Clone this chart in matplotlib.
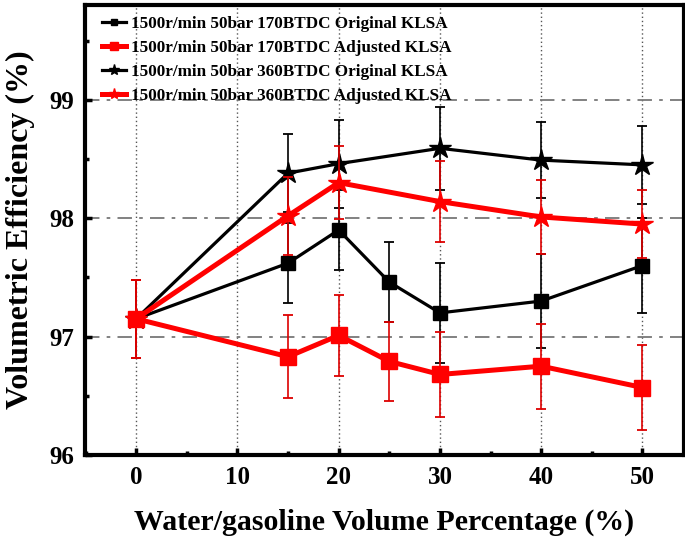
import matplotlib
matplotlib.use("Agg")
import matplotlib.pyplot as plt
from matplotlib.ticker import MultipleLocator
from matplotlib.lines import Line2D

# Data
x_sq = [0, 15, 20, 25, 30, 40, 50]
x_st = [0, 15, 20, 30, 40, 50]

orig170 = [97.15, 97.62, 97.90, 97.46, 97.20, 97.30, 97.60]
orig170_err = [0.33, 0.34, 0.34, 0.34, 0.42, 0.40, 0.40]
adj170 = [97.15, 96.83, 97.01, 96.79, 96.68, 96.75, 96.57]
adj170_err = [0.33, 0.35, 0.34, 0.33, 0.36, 0.36, 0.36]
orig360 = [97.15, 98.38, 98.46, 98.59, 98.49, 98.45]
orig360_err = [0.33, 0.33, 0.37, 0.35, 0.32, 0.33]
adj360 = [97.15, 98.02, 98.30, 98.14, 98.01, 97.95]
adj360_err = [0.33, 0.33, 0.31, 0.34, 0.31, 0.29]

labels = ["1500r/min 50bar 170BTDC Original KLSA",
          "1500r/min 50bar 170BTDC Adjusted KLSA",
          "1500r/min 50bar 360BTDC Original KLSA",
          "1500r/min 50bar 360BTDC Adjusted KLSA"]

plt.rcParams['font.family'] = ['Liberation Serif', 'DejaVu Serif']
plt.rcParams['font.weight'] = 'bold'

fig = plt.figure(figsize=(6.85, 5.4), dpi=100)
ax = fig.add_axes([85/685, 85/540, 599/685, 450/540])

ax.set_xlim(-5.05, 54.1)
ax.set_ylim(96, 99.8)

# grid
for xv in [0, 10, 20, 30, 40, 50]:
    ax.axvline(xv, color='#555555', lw=1.0, ls=(0, (1, 2)), zorder=0)
for yv in [97, 98, 99]:
    ax.axhline(yv, color='#777777', lw=1.3, ls=(0, (8, 4, 2, 4)), zorder=0)

ek = dict(capsize=3.5, capthick=1.3, elinewidth=1.2)
ax.errorbar(x_sq, orig170, yerr=orig170_err, color='black', ecolor='black',
            lw=2.3, marker='s', ms=10, zorder=4, **ek)
ax.errorbar(x_st, orig360, yerr=orig360_err, color='black', ecolor='black',
            lw=2.3, marker='*', ms=16, zorder=4, **ek)
ax.errorbar(x_sq, adj170, yerr=adj170_err, color='#ff0000', ecolor='#dd0000',
            lw=3.6, marker='s', ms=11, zorder=5, **ek)
ax.errorbar(x_st, adj360, yerr=adj360_err, color='#ff0000', ecolor='#dd0000',
            lw=3.6, marker='*', ms=16, zorder=5, **ek)

handles = [Line2D([], [], color='black', lw=2.3, marker='s', ms=5),
           Line2D([], [], color='#ff0000', lw=3.6, marker='s', ms=5.5),
           Line2D([], [], color='black', lw=2.3, marker='*', ms=8),
           Line2D([], [], color='#ff0000', lw=3.6, marker='*', ms=8)]
leg = ax.legend(handles, labels, loc='upper left',
                bbox_to_anchor=(0.01, 1.0), frameon=False, fontsize=12.3,
                handlelength=1.4, handletextpad=0.3, labelspacing=0.47,
                borderaxespad=0.25)
for t in leg.get_texts():
    t.set_fontweight('bold')

ax.xaxis.set_major_locator(MultipleLocator(10))
ax.xaxis.set_minor_locator(MultipleLocator(5))
ax.yaxis.set_major_locator(MultipleLocator(1))
ax.yaxis.set_minor_locator(MultipleLocator(0.5))
ax.tick_params(which='both', direction='in', width=2.5, top=False, right=False)
ax.tick_params(which='major', length=5, labelsize=18, pad=8)
ax.tick_params(which='minor', length=3)
for lab in ax.get_xticklabels() + ax.get_yticklabels():
    lab.set_fontweight('bold')

for sp in ax.spines.values():
    sp.set_linewidth(3)

ax.set_xlabel("Water/gasoline Volume Percentage (%)", fontsize=21.5, fontweight='bold', labelpad=14)
ax.set_ylabel("Volumetric Efficiency (%)", fontsize=23, fontweight='bold', labelpad=10)

fig.savefig("out.png", dpi=100)
